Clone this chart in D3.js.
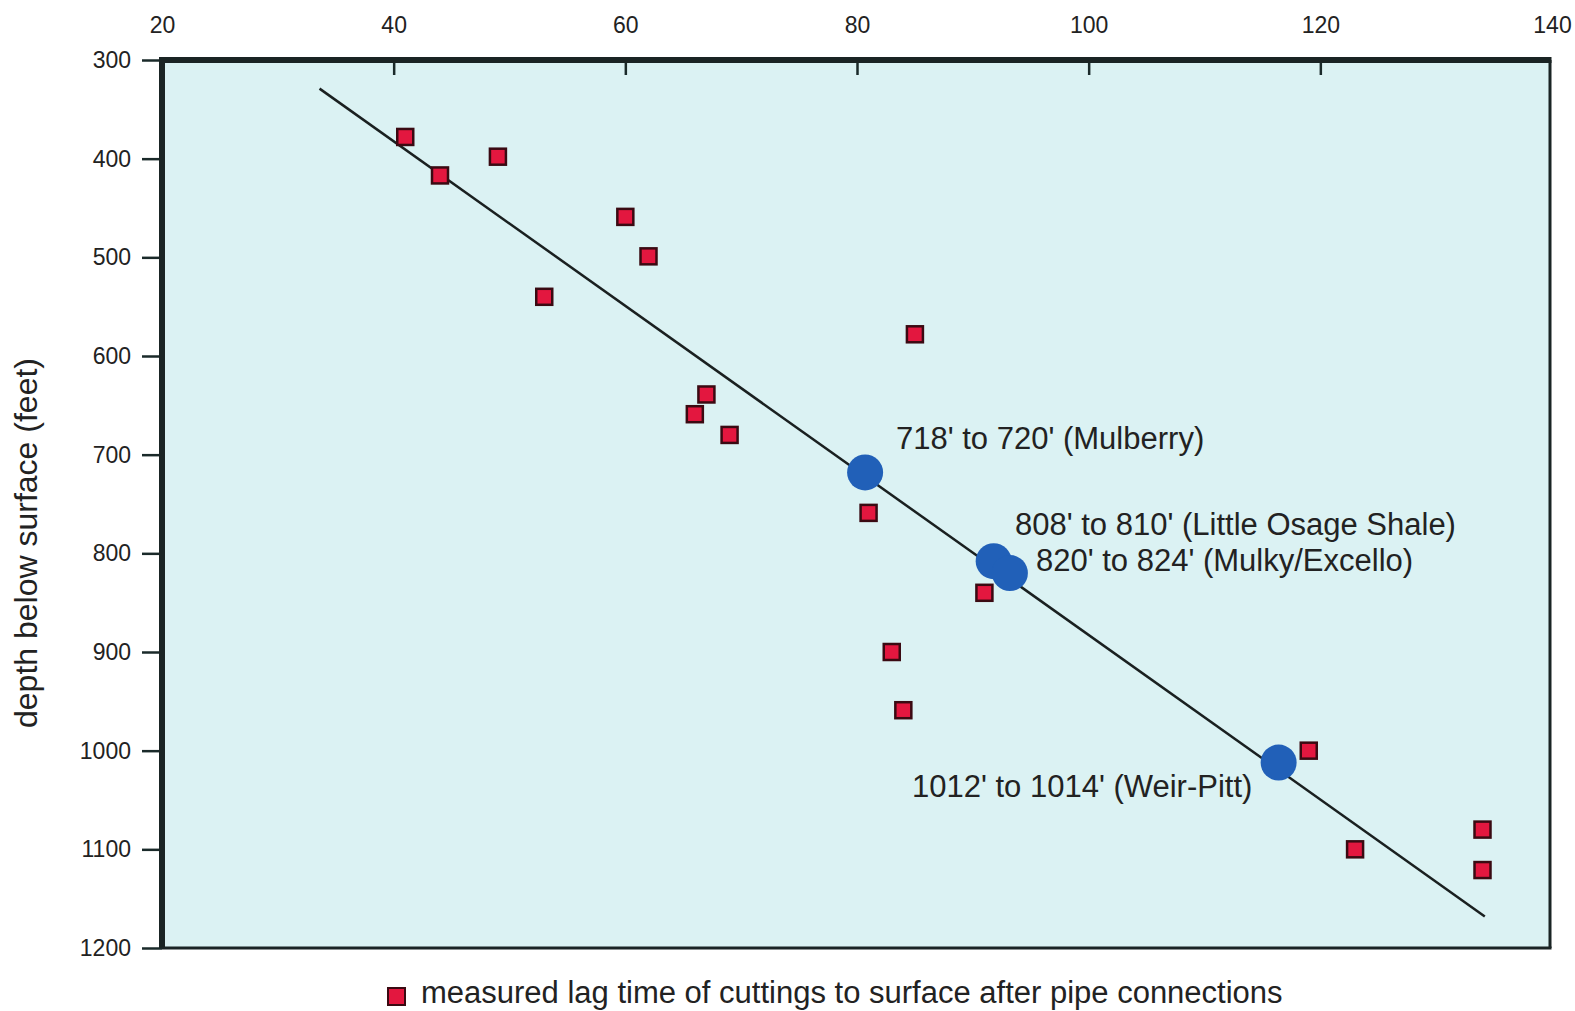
<!DOCTYPE html>
<html>
<head>
<meta charset="utf-8">
<script src="https://cdn.jsdelivr.net/npm/d3@7"></script>
<style>
  body { margin: 0; background: #fff; }
  text { font-family: 'Liberation Sans', Arial, Helvetica, sans-serif; fill: #222; }
</style>
</head>
<body>
<div id="chart"></div>
<script>
// measured lag times (minutes) vs depth (feet)
const lagTimes = [41, 44, 49, 60, 62, 53, 85, 67, 66, 69, 81, 91, 83, 84, 119, 123, 134, 134];
const lagDepths = [378, 417, 398, 459, 499, 540, 578, 639, 659, 680, 759, 840, 900, 959, 1000, 1100, 1080, 1121];

// sampled coal / shale intervals
const zoneNames = ["718' to 720' (Mulberry)", "808' to 810' (Little Osage Shale)",
                   "820' to 824' (Mulky/Excello)", "1012' to 1014' (Weir-Pitt)"];
const zoneTimes = [80.7, 91.8, 93.2, 116.4];
const zoneDepths = [718, 808, 820, 1012];

// trend line end points
const trendTimes = [33.6, 134.2];
const trendDepths = [329, 1168];

const xTicks = [20, 40, 60, 80, 100, 120, 140];
const yTicks = [300, 400, 500, 600, 700, 800, 900, 1000, 1100, 1200];

const width = 1575, height = 1011;
const svg = d3.select('#chart').append('svg')
    .attr('width', width).attr('height', height);

let x = d3.scaleLinear().domain([20, 140]).range([162, 1552]);
let y = d3.scaleLinear().domain([300, 1200]).range([60, 948]);

// plot background
svg.append('rect')
    .attr('x', x.range()[0]).attr('y', y.range()[0])
    .attr('width', x.range()[1] - x.range()[0] - 2)
    .attr('height', y.range()[1] - y.range()[0])
    .attr('fill', '#dbf2f3');

// axes
let xAxis = d3.axisTop(x).tickValues(xTicks).tickSize(-15).tickPadding(27)
    .tickFormat(d3.format('d'));
let gx = svg.append('g')
    .attr('transform', 'translate(0,' + y.range()[0] + ')')
    .call(xAxis);
gx.select('.domain').remove();
gx.selectAll('.tick line').attr('stroke', '#1a2a2a').attr('stroke-width', 2.5)
    .filter(d => d === 20 || d === 140).remove();
gx.selectAll('.tick text').style('font-size', '23px').attr('fill', '#2a2a2a');

let yAxis = d3.axisLeft(y).tickValues(yTicks).tickSize(20).tickPadding(11)
    .tickFormat(d3.format('d'));
let gy = svg.append('g')
    .attr('transform', 'translate(' + x.range()[0] + ',0)')
    .call(yAxis);
gy.select('.domain').remove();
gy.selectAll('.tick line').attr('stroke', '#1a2a2a').attr('stroke-width', 2.5);
gy.selectAll('.tick text').style('font-size', '23px').attr('fill', '#2a2a2a');

// frame: heavy top and left, thinner right and bottom
const x0 = x.range()[0], x1 = x.range()[1] - 2, y0 = y.range()[0], y1 = y.range()[1];
const frame = svg.append('g').attr('stroke', '#1a2424').attr('fill', 'none');
frame.append('line').attr('x1', x0).attr('x2', x1 + 1.5).attr('y1', y0).attr('y2', y0).attr('stroke-width', 6);
frame.append('line').attr('x1', x0).attr('x2', x0).attr('y1', y0 - 3).attr('y2', y1).attr('stroke-width', 6);
frame.append('line').attr('x1', x1).attr('x2', x1).attr('y1', y0).attr('y2', y1).attr('stroke-width', 3);
frame.append('line').attr('x1', x0).attr('x2', x1 + 1.5).attr('y1', y1).attr('y2', y1).attr('stroke-width', 3);

// trend line
const trend = trendTimes.map((t, i) => ({t: t, d: trendDepths[i]}));
svg.append('path')
    .attr('d', d3.line().x(p => x(p.t)).y(p => y(p.d))(trend))
    .attr('stroke', '#1a2020').attr('stroke-width', 2.5).attr('fill', 'none');

// measured points
const sq = 16;
svg.append('g').selectAll('rect')
    .data(lagTimes.map((t, i) => ({t: t, d: lagDepths[i]})))
    .join('rect')
    .attr('x', p => x(p.t) - sq / 2).attr('y', p => y(p.d) - sq / 2)
    .attr('width', sq).attr('height', sq)
    .attr('fill', '#e3173f').attr('stroke', '#3a0a12').attr('stroke-width', 2.5);

// sampled zones
svg.append('g').selectAll('circle')
    .data(zoneTimes.map((t, i) => ({t: t, d: zoneDepths[i]})))
    .join('circle')
    .attr('cx', p => x(p.t)).attr('cy', p => y(p.d)).attr('r', 18)
    .attr('fill', '#2160b8');

const labelPos = [[896, 449], [1015, 535], [1036, 571], [912, 797]];
svg.append('g').selectAll('text')
    .data(zoneNames)
    .join('text')
    .attr('x', (d, i) => labelPos[i][0]).attr('y', (d, i) => labelPos[i][1])
    .style('font-size', '31px')
    .text(d => d);

// y axis title
svg.append('text')
    .attr('transform', 'translate(37,543) rotate(-90)')
    .style('text-anchor', 'middle')
    .style('font-size', '32px')
    .text('depth below surface (feet)');

// legend
svg.append('rect')
    .attr('x', 388).attr('y', 988).attr('width', 17).attr('height', 17)
    .attr('fill', '#e3173f').attr('stroke', '#3a0a12').attr('stroke-width', 2);
svg.append('text')
    .attr('x', 421).attr('y', 1003)
    .style('font-size', '31px')
    .text('measured lag time of cuttings to surface after pipe connections');
</script>
</body>
</html>
